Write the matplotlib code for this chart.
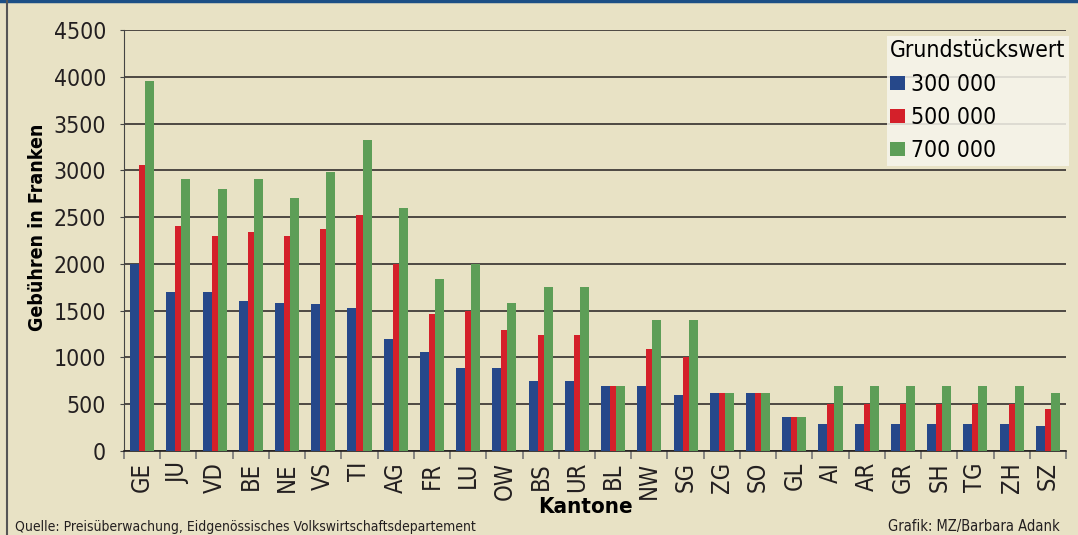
import numpy as np
import matplotlib.pyplot as plt
from matplotlib.lines import Line2D
from matplotlib import font_manager

# Gebühren nach Kanton und Grundstückswert
kantone = ['GE', 'JU', 'VD', 'BE', 'NE', 'VS', 'TI', 'AG', 'FR', 'LU', 'OW', 'BS', 'UR',
           'BL', 'NW', 'SG', 'ZG', 'SO', 'GL', 'AI', 'AR', 'GR', 'SH', 'TG', 'ZH', 'SZ']
w300 = [2000, 1700, 1700, 1600, 1580, 1570, 1530, 1200, 1060, 890, 890, 750, 750,
        700, 700, 600, 620, 620, 365, 290, 290, 290, 290, 290, 290, 270]
w500 = [3060, 2400, 2300, 2340, 2300, 2370, 2520, 2000, 1460, 1500, 1290, 1240, 1240,
        700, 1090, 1000, 620, 620, 365, 500, 500, 500, 500, 500, 500, 450]
w700 = [3950, 2910, 2800, 2910, 2700, 2980, 3320, 2600, 1840, 2000, 1580, 1750, 1750,
        700, 1400, 1400, 620, 620, 365, 700, 700, 700, 700, 700, 700, 620]
serien = ['300 000', '500 000', '700 000']

bg = '#E8E2C5'
farben = ['#26488A', '#D4202A', '#5D9E57']

# schmale Schrift suchen
fonts = {(f.name, f.stretch) for f in font_manager.fontManager.ttflist}
namen = {f[0] for f in fonts}
if 'Liberation Sans Narrow' in namen:
    plt.rcParams['font.family'] = ['Liberation Sans Narrow', 'DejaVu Sans']
elif ('DejaVu Sans', 'condensed') in fonts or ('DejaVu Sans', 'semi-condensed') in fonts:
    plt.rcParams['font.family'] = ['DejaVu Sans']
    plt.rcParams['font.stretch'] = 'condensed'
else:
    plt.rcParams['font.family'] = ['Liberation Sans', 'DejaVu Sans']

fig = plt.figure(figsize=(10.78, 5.35), dpi=100, facecolor=bg)
ax = fig.add_axes([124/1078, 1-451/535, 942/1078, 421/535])
ax.set_facecolor(bg)

x = np.arange(len(kantone))
ax.bar(x - 0.208, w300, width=0.25, color=farben[0], label=serien[0], zorder=3)
ax.bar(x, w500, width=0.167, color=farben[1], label=serien[1], zorder=3)
ax.bar(x + 0.208, w700, width=0.25, color=farben[2], label=serien[2], zorder=3)

ax.set_xlim(-0.5, len(kantone) - 0.5)
ax.set_ylim(0, 4500)
ax.set_yticks(np.arange(0, 4501, 500))
ax.yaxis.grid(True, color='#231F20', lw=1.1, zorder=1)
ax.tick_params(axis='y', labelsize=16.5, length=3, pad=10, color='#444', labelcolor='#231F20')

ax.set_xticks(x)
ax.set_xticklabels(kantone, rotation=90, fontsize=17, color='#231F20')
ax.tick_params(axis='x', length=0, pad=8)
ax.set_xticks(np.arange(-0.5, len(kantone)), minor=True)
ax.tick_params(axis='x', which='minor', length=6, color='#777', width=1.2)

for s in ['top', 'right']:
    ax.spines[s].set_visible(False)
ax.spines['left'].set_color('#444')
ax.spines['bottom'].set_color('#231F20')
ax.spines['bottom'].set_linewidth(1.2)

ax.set_ylabel('Gebühren in Franken', fontsize=14, fontweight='bold')
ax.yaxis.set_label_coords(-0.082, 0.532)
ax.set_xlabel('Kantone', fontsize=16, fontweight='bold')
ax.xaxis.set_label_coords(0.49, -0.11)

leg = ax.legend(title='Grundstückswert', fontsize=16.5, title_fontsize=16.5,
                loc='upper right', bbox_to_anchor=(1069/1078, 1-36/535),
                bbox_transform=fig.transFigure, frameon=True, fancybox=False,
                handlelength=0.65, handleheight=0.55, handletextpad=0.25,
                labelspacing=0.45, borderpad=0.15, borderaxespad=0)
leg._legend_box.align = 'left'
leg.get_frame().set_facecolor('#F7F5EC')
leg.get_frame().set_alpha(0.85)
leg.get_frame().set_edgecolor('none')

fig.text(15/1078, 1/535, 'Quelle: Preisüberwachung, Eidgenössisches Volkswirtschaftsdepartement',
         fontsize=10, color='#231F20', va='bottom', ha='left')
fig.text(1060/1078, 1/535, 'Grafik: MZ/Barbara Adank',
         fontsize=10.5, color='#231F20', va='bottom', ha='right')

# Rahmen
fig.add_artist(Line2D([0, 1], [1-1/535, 1-1/535], transform=fig.transFigure, color='#1C4F86', lw=2.5))
fig.add_artist(Line2D([7/1078, 7/1078], [0, 1], transform=fig.transFigure, color='#555555', lw=1.5))

plt.savefig('out.png', dpi=100, facecolor=bg)
